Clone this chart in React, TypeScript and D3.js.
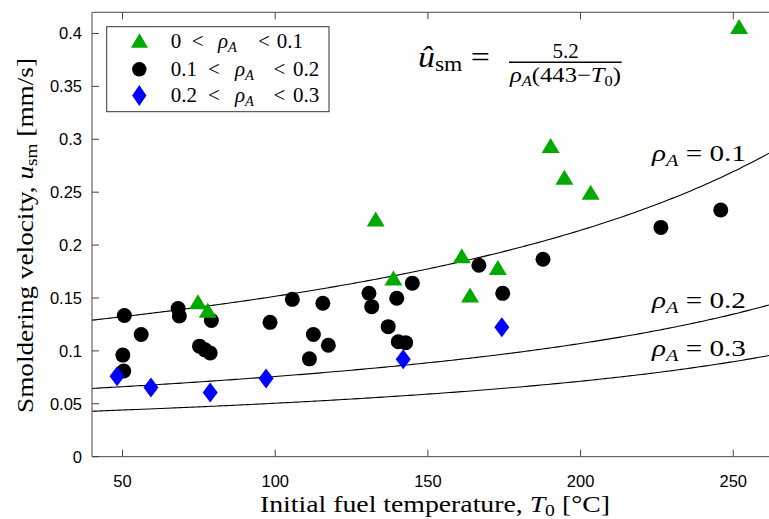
import React, { useEffect } from "react";
import * as d3 from "d3";

// ---- data ----
const greenT = [74.7, 77.9, 132.9, 138.7, 161.1, 163.8, 172.9, 190.2, 194.7, 203.3, 251.9];
const greenU = [0.1465, 0.1385, 0.2246, 0.169, 0.1898, 0.1528, 0.1787, 0.294, 0.264, 0.25, 0.4065];

const blackT = [50.6, 56.1, 50.1, 50.4, 68.2, 68.6, 79.1, 75.2, 77.0, 78.7, 98.3, 105.6, 112.5, 115.6, 117.4, 111.2, 130.7, 131.6, 139.8, 137.0, 140.3, 142.7, 144.9, 166.7, 174.5, 187.7, 226.3, 245.9];
const blackU = [0.1335, 0.1155, 0.096, 0.081, 0.14, 0.133, 0.1287, 0.1045, 0.101, 0.098, 0.127, 0.1487, 0.1155, 0.145, 0.1053, 0.0925, 0.1545, 0.1418, 0.1497, 0.1229, 0.1087, 0.1078, 0.164, 0.181, 0.1544, 0.1866, 0.2167, 0.2331];

const blueT = [48.2, 59.3, 78.7, 97.0, 141.9, 174.2];
const blueU = [0.076, 0.0655, 0.0607, 0.0738, 0.092, 0.1224];

const xTicks = [50, 100, 150, 200, 250];
const yTicks = [0, 0.05, 0.1, 0.15, 0.2, 0.25, 0.3, 0.35, 0.4];
const yTickLabels = ["0", "0.05", "0.1", "0.15", "0.2", "0.25", "0.3", "0.35", "0.4"];

const modelCoef = 5.2;
const modelTig = 443;
const modelRho = [0.1, 0.2, 0.3];
const modelRhoLabels = ["0.1", "0.2", "0.3"];

const legendLabels = [
  ["0", "0.1"],
  ["0.1", "0.2"],
  ["0.2", "0.3"],
];

const W = 769;
const H = 519;
const L = 92, R = 769, T = 12.3, B = 456.7;

const serif = "'Liberation Serif', 'Times New Roman', serif";
const sans = "'Liberation Sans', Arial, Helvetica, sans-serif";

const GREEN = "#00aa00";
const BLUE = "#0000ff";

const tri = (cx: number, cy: number, w = 18, h = 15) =>
  `M${cx},${cy - h / 2}L${cx + w / 2},${cy + h / 2}L${cx - w / 2},${cy + h / 2}Z`;
const dia = (cx: number, cy: number, w = 15, h = 20) =>
  `M${cx},${cy - h / 2}L${cx + w / 2},${cy}L${cx},${cy + h / 2}L${cx - w / 2},${cy}Z`;

export default function App() {
  useEffect(() => {
    document.body.style.margin = "0";
  }, []);

  const x = d3.scaleLinear().domain([40, 261.7]).range([L, R]);
  const y = d3.scaleLinear().domain([0, 0.42]).range([B, T]);

  const Ts = d3.range(40, 262, 1).concat([261.7]);

  const curves = modelRho.map((rho) =>
    d3
      .line<number>()
      .x((t) => x(t))
      .y((t) => y(modelCoef / (rho * (modelTig - t))))(Ts)
  );

  const curveLabelY = [161, 308, 356];
  const legendRowY = [40.5, 69.3, 95.5];

  return (
    <svg
      width={W}
      height={H}
      style={{ display: "block", position: "absolute", left: 0, top: 0, background: "#fff" }}
    >
      <defs>
        <clipPath id="plot">
          <rect x={L} y={T} width={R - L} height={B - T} />
        </clipPath>
      </defs>

      {/* model curves */}
      <g clipPath="url(#plot)">
        {curves.map((d, i) => (
          <path key={i} d={d || ""} fill="none" stroke="#000" strokeWidth={1.1} />
        ))}
      </g>

      {/* axes */}
      <g stroke="#444" strokeWidth={1} fill="none">
        <line x1={L} y1={B} x2={R} y2={B} />
        <line x1={L} y1={T} x2={R} y2={T} />
        <line x1={L} y1={T} x2={L} y2={B} />
        {xTicks.map((t) => (
          <g key={t}>
            <line x1={x(t)} x2={x(t)} y1={B} y2={B - 7} />
            <line x1={x(t)} x2={x(t)} y1={T} y2={T + 7} />
          </g>
        ))}
        {yTicks.map((t) => (
          <line key={t} x1={L} x2={L + 7} y1={y(t)} y2={y(t)} />
        ))}
      </g>

      {/* tick labels */}
      <g fontFamily={sans} fontSize={16.5} fill="#000">
        {xTicks.map((t) => (
          <text key={t} x={x(t)} y={487} textAnchor="middle">
            {t}
          </text>
        ))}
        {yTicks.map((t, i) => (
          <text key={t} x={82} y={y(t)} dy="0.36em" textAnchor="end">
            {yTickLabels[i]}
          </text>
        ))}
      </g>

      {/* data */}
      <g>
        {blackT.map((t, i) => (
          <circle key={"b" + i} cx={x(t)} cy={y(blackU[i])} r={7.5} fill="#000" />
        ))}
        {greenT.map((t, i) => (
          <path key={"g" + i} d={tri(x(t), y(greenU[i]))} fill={GREEN} />
        ))}
        {blueT.map((t, i) => (
          <path key={"d" + i} d={dia(x(t), y(blueU[i]))} fill={BLUE} />
        ))}
      </g>

      {/* curve labels */}
      <g fontFamily={serif} fontSize={23} fill="#000">
        {modelRhoLabels.map((lab, i) => (
          <text key={lab} x={652} y={curveLabelY[i]} textLength={94} lengthAdjust="spacingAndGlyphs">
            <tspan fontStyle="italic">ρ</tspan>
            <tspan fontStyle="italic" fontSize={16} dy={5}>
              A
            </tspan>
            <tspan dy={-5}>{" = " + lab}</tspan>
          </text>
        ))}
      </g>

      {/* formula */}
      <g fontFamily={serif} fill="#000">
        <text x={418} y={66.5} fontSize={29} textLength={72} lengthAdjust="spacingAndGlyphs">
          <tspan fontStyle="italic">û</tspan>
          <tspan fontSize={20} dy={4}>sm</tspan>
          <tspan dy={-4}>{" ="}</tspan>
        </text>
        <text x={565.5} y={58.3} fontSize={21} textAnchor="middle">
          5.2
        </text>
        <line x1={509} x2={621.7} y1={62.3} y2={62.3} stroke="#000" strokeWidth={1.4} />
        <text x={510} y={82} fontSize={21} textLength={111} lengthAdjust="spacingAndGlyphs">
          <tspan fontStyle="italic">ρ</tspan>
          <tspan fontStyle="italic" fontSize={14} dy={4}>A</tspan>
          <tspan dy={-4}>(443−</tspan>
          <tspan fontStyle="italic">T</tspan>
          <tspan fontSize={14} dy={4}>0</tspan>
          <tspan dy={-4}>)</tspan>
        </text>
      </g>

      {/* legend */}
      <g>
        <rect x={106.7} y={26.7} width={222.3} height={85} fill="#fff" stroke="#333" strokeWidth={1} />
        <path d={tri(139.5, legendRowY[0], 17, 14.7)} fill={GREEN} />
        <circle cx={139.3} cy={legendRowY[1]} r={7.2} fill="#000" />
        <path d={dia(139.3, legendRowY[2], 14.3, 21)} fill={BLUE} />
        <g fontFamily={serif} fontSize={21} fill="#000">
          {legendLabels.map((lab, i) => {
            const yy = [47.7, 75.5, 101.8][i];
            const first = i === 0;
            return (
              <text key={i} y={yy}>
                <tspan x={170.7}>{lab[0]}</tspan>
                <tspan x={first ? 191.7 : 208}>{"<"}</tspan>
                <tspan x={first ? 218 : 235} fontStyle="italic">ρ</tspan>
                <tspan fontStyle="italic" fontSize={14.5} dy={4}>A</tspan>
                <tspan x={first ? 258 : 273.5} dy={-4}>{"<"}</tspan>
                <tspan x={first ? 276.7 : 293}>{lab[1]}</tspan>
              </text>
            );
          })}
        </g>
      </g>

      {/* axis titles */}
      <text x={260} y={512} fontFamily={serif} fontSize={24} fill="#000" textLength={350} lengthAdjust="spacingAndGlyphs">
        Initial fuel temperature,{" "}
        <tspan fontStyle="italic">T</tspan>
        <tspan fontSize={17} dy={4}>0</tspan>
        <tspan dy={-4}> [°C]</tspan>
      </text>
      <text
        transform={`translate(33,413) rotate(-90)`}
        fontFamily={serif}
        fontSize={24}
        fill="#000"
        textLength={355}
        lengthAdjust="spacingAndGlyphs"
      >
        Smoldering velocity,{" "}
        <tspan fontStyle="italic">u</tspan>
        <tspan fontSize={17} dy={4}>sm</tspan>
        <tspan dy={-4}> [mm/s]</tspan>
      </text>
    </svg>
  );
}
